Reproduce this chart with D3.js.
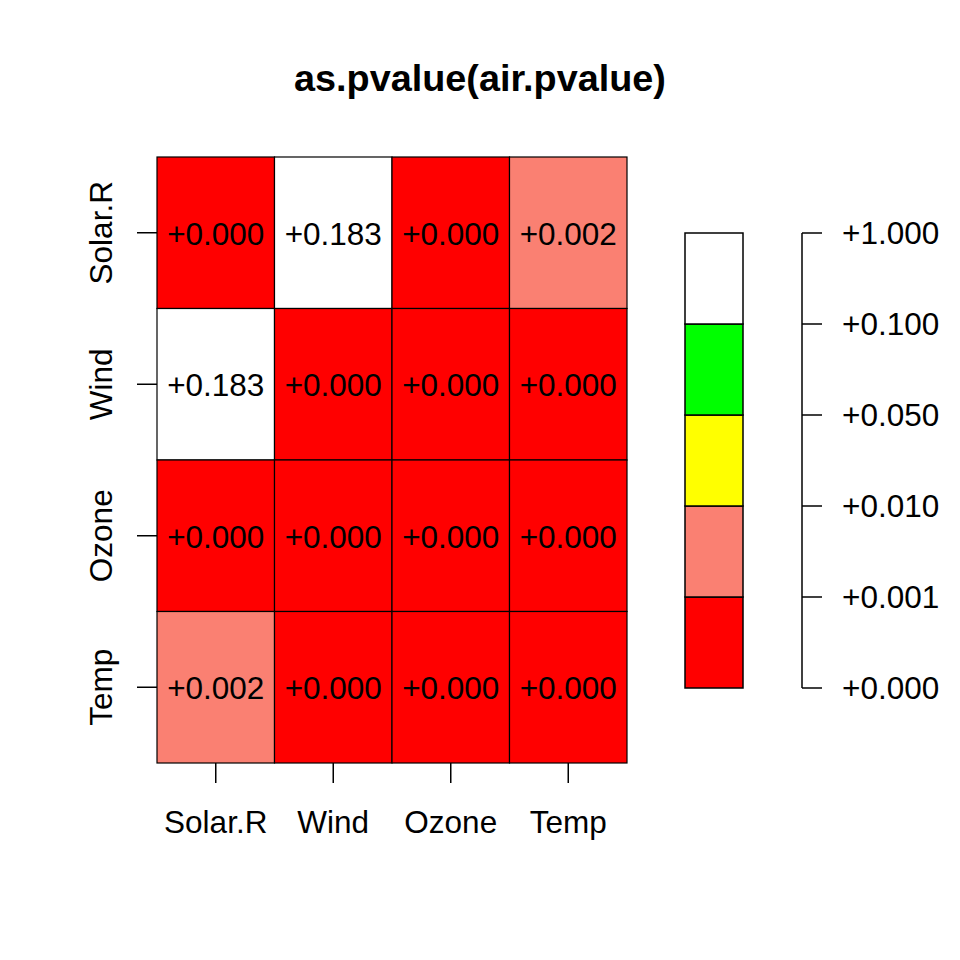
<!DOCTYPE html>
<html>
<head>
<meta charset="utf-8">
<script src="https://cdn.jsdelivr.net/npm/d3@7"></script>
<style>
html,body{margin:0;padding:0;background:#fff;}
svg{display:block;font-family:"Liberation Sans",Arial,sans-serif;}
</style>
</head>
<body>
<svg id="chart" width="960" height="960"></svg>
<script>
const title = "as.pvalue(air.pvalue)";
const rowLabels = ["Solar.R", "Wind", "Ozone", "Temp"];
const colLabels = ["Solar.R", "Wind", "Ozone", "Temp"];
const pvalues = [
  [0.000, 0.183, 0.000, 0.002],
  [0.183, 0.000, 0.000, 0.000],
  [0.000, 0.000, 0.000, 0.000],
  [0.002, 0.000, 0.000, 0.000]
];
const breaks = [0, 0.001, 0.01, 0.05, 0.1, 1];
const breakLabels = ["+0.000", "+0.001", "+0.010", "+0.050", "+0.100", "+1.000"];
const binColors = ["#FF0000", "#FA8072", "#FFFF00", "#00FF00", "#FFFFFF"];

const svg = d3.select("#chart");
const fs = 31.5;

const color = d3.scaleThreshold().domain(breaks.slice(1, -1)).range(binColors);

const x = d3.scaleBand().domain(colLabels).range([157, 627]).padding(0);
const y = d3.scaleBand().domain(rowLabels).range([157, 763]).padding(0);

// title
svg.append("text").attr("x", 480).attr("y", 91)
  .attr("text-anchor", "middle").attr("font-weight", "bold")
  .attr("font-size", fs * 1.2).text(title);

// cells
const cells = [];
pvalues.forEach((row, i) => row.forEach((v, j) => cells.push({r: rowLabels[i], c: colLabels[j], v})));

svg.append("g").selectAll("rect").data(cells).join("rect")
  .attr("x", d => x(d.c)).attr("y", d => y(d.r))
  .attr("width", x.bandwidth()).attr("height", y.bandwidth())
  .attr("fill", d => color(d.v)).attr("stroke", "#000").attr("stroke-width", 1.2);

svg.append("g").selectAll("text").data(cells).join("text")
  .attr("x", d => x(d.c) + x.bandwidth() / 2)
  .attr("y", d => y(d.r) + y.bandwidth() / 2 + 12)
  .attr("text-anchor", "middle").attr("font-size", fs)
  .text(d => "+" + d.v.toFixed(3));

// x axis
const xa = svg.append("g").attr("transform", "translate(0,763)");
xa.selectAll("line").data(colLabels).join("line")
  .attr("x1", d => x(d) + x.bandwidth() / 2).attr("x2", d => x(d) + x.bandwidth() / 2)
  .attr("y1", 0).attr("y2", 20).attr("stroke", "#000").attr("stroke-width", 1.5);
xa.selectAll("text").data(colLabels).join("text")
  .attr("x", d => x(d) + x.bandwidth() / 2).attr("y", 70)
  .attr("text-anchor", "middle").attr("font-size", fs).text(d => d);

// y axis
const ya = svg.append("g").attr("transform", "translate(157,0)");
ya.selectAll("line").data(rowLabels).join("line")
  .attr("x1", -20).attr("x2", 0)
  .attr("y1", d => y(d) + y.bandwidth() / 2).attr("y2", d => y(d) + y.bandwidth() / 2)
  .attr("stroke", "#000").attr("stroke-width", 1.5);
ya.selectAll("text").data(rowLabels).join("text")
  .attr("transform", d => `translate(-45,${y(d) + y.bandwidth() / 2}) rotate(-90)`)
  .attr("text-anchor", "middle").attr("font-size", fs).text(d => d);

// legend
const ly = d3.scalePoint().domain(breakLabels).range([688, 233]);
const segs = binColors.map((c, i) => ({c, lo: breakLabels[i], hi: breakLabels[i + 1]}));
svg.append("g").selectAll("rect").data(segs).join("rect")
  .attr("x", 685).attr("width", 58)
  .attr("y", d => ly(d.hi)).attr("height", d => ly(d.lo) - ly(d.hi))
  .attr("fill", d => d.c).attr("stroke", "#000").attr("stroke-width", 1.5);

const la = svg.append("g").attr("transform", "translate(802,0)");
la.append("line").attr("x1", 0).attr("x2", 0).attr("y1", 233).attr("y2", 688)
  .attr("stroke", "#000").attr("stroke-width", 1.5);
la.selectAll("line.t").data(breakLabels).join("line").attr("class", "t")
  .attr("x1", 0).attr("x2", 20).attr("y1", d => ly(d)).attr("y2", d => ly(d))
  .attr("stroke", "#000").attr("stroke-width", 1.5);
la.selectAll("text").data(breakLabels).join("text")
  .attr("x", 40).attr("y", d => ly(d) + 11)
  .attr("font-size", fs).text(d => d);
</script>
</body>
</html>
